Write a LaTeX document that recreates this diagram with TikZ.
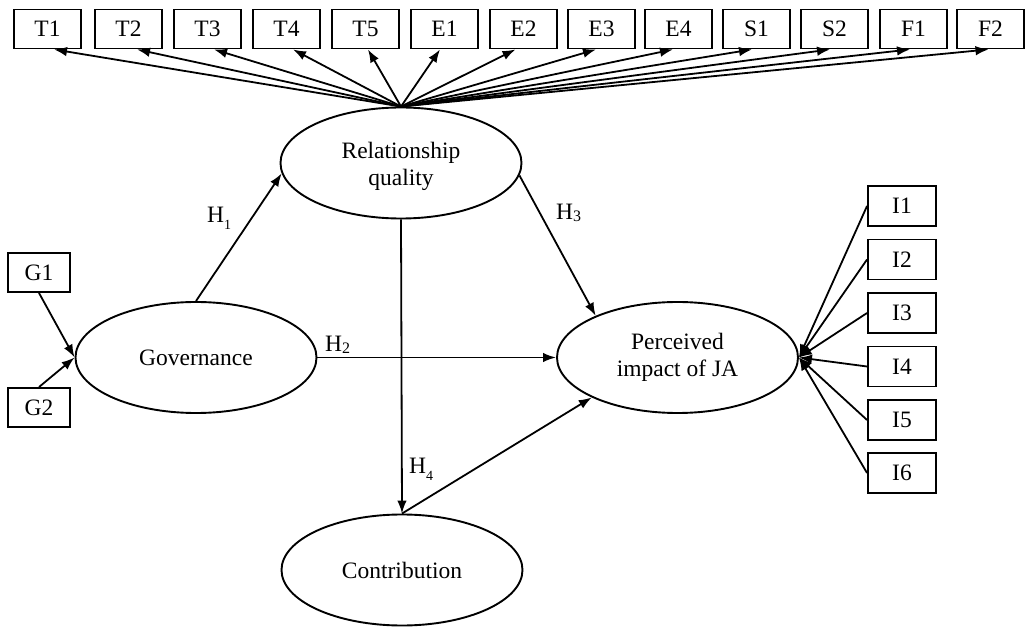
\documentclass[tikz,border=0pt]{standalone}
\usepackage{fontspec}
\setmainfont{Liberation Serif}
\usetikzlibrary{shapes.geometric,arrows.meta,calc}
\begin{document}
\begin{tikzpicture}[x=1pt,y=-1pt,
  font=\fontsize{23.5}{27}\selectfont,
  ind/.style={draw,line width=1.9pt,minimum width=67pt,minimum height=39pt,inner sep=0pt},
  lat/.style={draw,ellipse,line width=1.9pt,minimum width=241pt,minimum height=111pt,inner sep=0pt,align=center},
  arr/.style={line width=1.8pt,-{Latex[length=13pt,width=9.5pt]}},
  hlab/.style={inner sep=0pt,anchor=base west}]
\useasboundingbox (0,0) rectangle (1029,628);
\node[lat] (R) at (401,163) {\rule{0pt}{23pt}Relationship\\quality};
\node[lat] (G) at (196,357.5) {Governance};
\node[lat] (P) at (677.5,357.5) {Perceived\\impact of JA};
\node[lat] (C) at (402,570) {Contribution};
\foreach \n/\x/\d in {T1/47.5/6.5, T2/128.5/8.5, T3/207.5/6.5, T4/286.5/6.5, T5/365.5/2.5, E1/444.5/-4.5, E2/523.5/-8, E3/601.5/-5.5, E4/678.5/-5.5, S1/756.5/-4.5, S2/834.5/-4.5, F1/913.5/-3.5, F2/990.5/-2} {
  \node[ind] (\n) at (\x,29) {\n};
  \draw[arr] (R.north) -- ($(\n.south)+(\d,0)$);
}
\foreach \n/\y in {I1/206, I2/259.5, I3/313, I4/366.5, I5/420, I6/473} {
  \node[ind,minimum width=68pt,minimum height=40pt] (\n) at (902,\y) {\n};
  \draw[arr] (\n.west) -- (P.east);
}
\node[ind,minimum width=62pt] (G1) at (39,272.5) {G1};
\node[ind,minimum width=62pt] (G2) at (39,407.5) {G2};
\draw[arr] (G1.south) -- (G.west);
\draw[arr] (G2.north) -- (G.west);
\draw[arr] (G.north) -- (R.185);
\draw[arr] (G.east) -- (P.west);
\draw[arr] (R.-6) -- (P.153);
\draw[arr] (R.south) -- (C.north);
\draw[arr] (C.north) -- (P.205);
\node[hlab] (h1) at (207,223) {H\raisebox{-7pt}{\fontsize{14}{14}\selectfont 1}};
\node[hlab] (h2) at (325,352) {H\raisebox{-2pt}{\fontsize{16}{16}\selectfont 2}};
\node[hlab] (h3) at (556,220) {H\raisebox{-2pt}{\fontsize{16}{16}\selectfont 3}};
\node[hlab] (h4) at (409,474) {H\raisebox{-7pt}{\fontsize{14}{14}\selectfont 4}};
\end{tikzpicture}
\end{document}
